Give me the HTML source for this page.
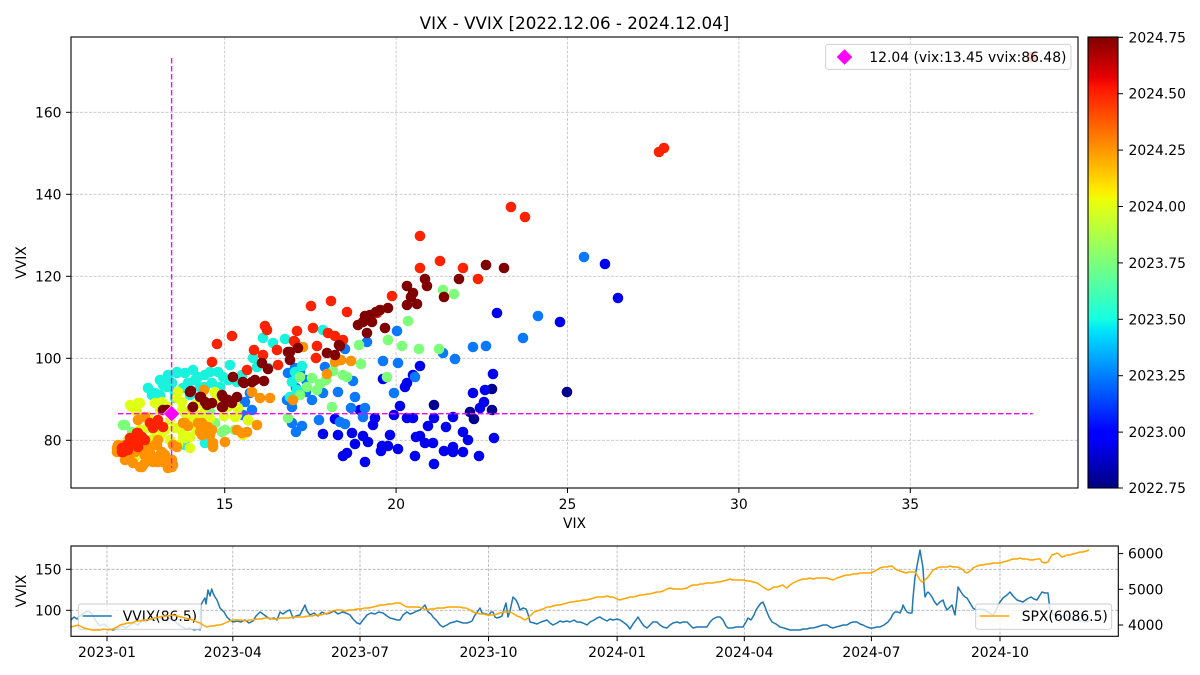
<!DOCTYPE html>
<html><head><meta charset="utf-8"><style>
html,body{margin:0;padding:0;background:#fff;}
svg{display:block;font-family:"DejaVu Sans","Liberation Sans",sans-serif;}
.t{font-size:13.9px;fill:#000;}
</style></head><body>
<svg width="1200" height="675" viewBox="0 0 1200 675" xmlns="http://www.w3.org/2000/svg">
<defs>
<linearGradient id="jet" x1="0" y1="1" x2="0" y2="0">
<stop offset="0" stop-color="#000080"/><stop offset="0.11" stop-color="#0000ff"/><stop offset="0.125" stop-color="#0000ff"/>
<stop offset="0.34" stop-color="#00dbff"/><stop offset="0.35" stop-color="#00e5f8"/><stop offset="0.375" stop-color="#15ffe2"/>
<stop offset="0.5" stop-color="#7bff7b"/><stop offset="0.64" stop-color="#eeff08"/><stop offset="0.65" stop-color="#f7f500"/>
<stop offset="0.66" stop-color="#ffec00"/><stop offset="0.75" stop-color="#ff9600"/><stop offset="0.89" stop-color="#ff1300"/>
<stop offset="0.91" stop-color="#e80000"/><stop offset="1" stop-color="#800000"/>
</linearGradient>
</defs>
<rect width="1200" height="675" fill="#fff"/>
<text x="574.5" y="29" text-anchor="middle" font-size="16.7">VIX - VVIX [2022.12.06 - 2024.12.04]</text>

<!-- main grid -->
<g stroke="#c4c4c4" stroke-width="0.8" stroke-dasharray="3,1.5">
<line x1="224.7" y1="37" x2="224.7" y2="488"/><line x1="396.1" y1="37" x2="396.1" y2="488"/><line x1="567.5" y1="37" x2="567.5" y2="488"/><line x1="738.9" y1="37" x2="738.9" y2="488"/><line x1="910.3" y1="37" x2="910.3" y2="488"/>
<line x1="71" y1="112.3" x2="1078" y2="112.3"/><line x1="71" y1="194.3" x2="1078" y2="194.3"/><line x1="71" y1="276.3" x2="1078" y2="276.3"/><line x1="71" y1="358.3" x2="1078" y2="358.3"/><line x1="71" y1="440.3" x2="1078" y2="440.3"/>
</g>

<!-- scatter -->
<g fill="#000090">
<circle cx="434" cy="405" r="5.3"/><circle cx="470" cy="412" r="5.3"/><circle cx="474" cy="419" r="5.3"/><circle cx="492" cy="389" r="5.3"/><circle cx="492" cy="410" r="5.3"/><circle cx="567" cy="392" r="5.3"/>
</g>
<g fill="#0000f0">
<circle cx="420" cy="366" r="5.3"/><circle cx="383" cy="379" r="5.3"/><circle cx="407" cy="383" r="5.3"/><circle cx="413" cy="375" r="5.3"/><circle cx="497" cy="313" r="5.3"/><circle cx="493" cy="374" r="5.3"/><circle cx="485" cy="390" r="5.3"/><circle cx="473" cy="393" r="5.3"/><circle cx="484" cy="402" r="5.3"/><circle cx="480" cy="408" r="5.3"/><circle cx="400" cy="406" r="5.3"/><circle cx="394" cy="415" r="5.3"/><circle cx="375" cy="418" r="5.3"/><circle cx="373" cy="425" r="5.3"/><circle cx="407" cy="418" r="5.3"/><circle cx="413" cy="418" r="5.3"/><circle cx="434" cy="418" r="5.3"/><circle cx="428" cy="426" r="5.3"/><circle cx="446" cy="427" r="5.3"/><circle cx="453" cy="417" r="5.3"/><circle cx="463" cy="432" r="5.3"/><circle cx="468" cy="440" r="5.3"/><circle cx="494" cy="438" r="5.3"/><circle cx="335" cy="419" r="5.3"/><circle cx="323" cy="434" r="5.3"/><circle cx="338" cy="435" r="5.3"/><circle cx="352" cy="433" r="5.3"/><circle cx="363" cy="436" r="5.3"/><circle cx="368" cy="442" r="5.3"/><circle cx="355" cy="444" r="5.3"/><circle cx="390" cy="435" r="5.3"/><circle cx="416" cy="437" r="5.3"/><circle cx="420" cy="436" r="5.3"/><circle cx="425" cy="443" r="5.3"/><circle cx="433" cy="443" r="5.3"/><circle cx="382" cy="446" r="5.3"/><circle cx="388" cy="446" r="5.3"/><circle cx="398" cy="449" r="5.3"/><circle cx="381" cy="451" r="5.3"/><circle cx="347" cy="453" r="5.3"/><circle cx="343" cy="456" r="5.3"/><circle cx="365" cy="462" r="5.3"/><circle cx="415" cy="456" r="5.3"/><circle cx="434" cy="464" r="5.3"/><circle cx="444" cy="451" r="5.3"/><circle cx="453" cy="447" r="5.3"/><circle cx="453" cy="452" r="5.3"/><circle cx="463" cy="452" r="5.3"/><circle cx="479" cy="456" r="5.3"/><circle cx="605" cy="264" r="5.3"/><circle cx="618" cy="298" r="5.3"/><circle cx="560" cy="322" r="5.3"/><circle cx="405" cy="387" r="5.3"/><circle cx="360" cy="410" r="5.3"/>
</g>
<g fill="#0a78ff">
<circle cx="584" cy="257" r="5.3"/><circle cx="538" cy="316" r="5.3"/><circle cx="523" cy="338" r="5.3"/><circle cx="486" cy="346" r="5.3"/><circle cx="473" cy="347" r="5.3"/><circle cx="443" cy="353" r="5.3"/><circle cx="455" cy="359" r="5.3"/><circle cx="398" cy="363" r="5.3"/><circle cx="397" cy="331" r="5.3"/><circle cx="325" cy="367" r="5.3"/><circle cx="353" cy="381" r="5.3"/><circle cx="338" cy="392" r="5.3"/><circle cx="323" cy="393" r="5.3"/><circle cx="355" cy="397" r="5.3"/><circle cx="394" cy="393" r="5.3"/><circle cx="415" cy="377" r="5.3"/><circle cx="351" cy="408" r="5.3"/><circle cx="365" cy="408" r="5.3"/><circle cx="363" cy="417" r="5.3"/><circle cx="319" cy="420" r="5.3"/><circle cx="340" cy="422" r="5.3"/><circle cx="345" cy="424" r="5.3"/><circle cx="345" cy="349" r="5.3"/><circle cx="367" cy="342" r="5.3"/><circle cx="252" cy="410" r="5.3"/><circle cx="243" cy="415" r="5.3"/><circle cx="292" cy="407" r="5.3"/><circle cx="287" cy="400" r="5.3"/><circle cx="288" cy="373" r="5.3"/><circle cx="295" cy="368" r="5.3"/><circle cx="292" cy="423" r="5.3"/><circle cx="300" cy="372" r="5.3"/><circle cx="306" cy="380" r="5.3"/><circle cx="296" cy="388" r="5.3"/><circle cx="312" cy="400" r="5.3"/><circle cx="302" cy="426" r="5.3"/><circle cx="296" cy="432" r="5.3"/><circle cx="306" cy="392" r="5.3"/><circle cx="248" cy="420" r="5.3"/><circle cx="383" cy="361" r="5.3"/><circle cx="250" cy="393" r="5.3"/><circle cx="245" cy="402" r="5.3"/>
</g>
<g fill="#19f2dc">
<circle cx="323" cy="330" r="5.3"/><circle cx="285" cy="339" r="5.3"/><circle cx="273" cy="343" r="5.3"/><circle cx="253" cy="358" r="5.3"/><circle cx="257" cy="367" r="5.3"/><circle cx="268" cy="368" r="5.3"/><circle cx="218" cy="372" r="5.3"/><circle cx="205" cy="375" r="5.3"/><circle cx="195" cy="380" r="5.3"/><circle cx="185" cy="373" r="5.3"/><circle cx="177" cy="373" r="5.3"/><circle cx="168" cy="378" r="5.3"/><circle cx="172" cy="383" r="5.3"/><circle cx="167" cy="387" r="5.3"/><circle cx="160" cy="395" r="5.3"/><circle cx="152" cy="395" r="5.3"/><circle cx="188" cy="383" r="5.3"/><circle cx="200" cy="387" r="5.3"/><circle cx="183" cy="388" r="5.3"/><circle cx="190" cy="395" r="5.3"/><circle cx="175" cy="393" r="5.3"/><circle cx="175" cy="398" r="5.3"/><circle cx="242" cy="375" r="5.3"/><circle cx="237" cy="382" r="5.3"/><circle cx="223" cy="377" r="5.3"/><circle cx="220" cy="387" r="5.3"/><circle cx="205" cy="443" r="5.3"/><circle cx="185" cy="445" r="5.3"/><circle cx="295" cy="372" r="5.3"/><circle cx="302" cy="366" r="5.3"/><circle cx="292" cy="382" r="5.3"/><circle cx="297" cy="390" r="5.3"/><circle cx="290" cy="397" r="5.3"/><circle cx="263" cy="338" r="5.3"/><circle cx="230" cy="365" r="5.3"/>
<circle cx="155" cy="393" r="5.3"/><circle cx="163" cy="385" r="5.3"/><circle cx="168" cy="375" r="5.3"/><circle cx="177" cy="372" r="5.3"/><circle cx="198" cy="377" r="5.3"/><circle cx="228" cy="380" r="5.3"/><circle cx="205" cy="387" r="5.3"/><circle cx="188" cy="388" r="5.3"/><circle cx="212" cy="383" r="5.3"/><circle cx="160" cy="380" r="5.3"/><circle cx="193" cy="370" r="5.3"/><circle cx="210" cy="372" r="5.3"/><circle cx="148" cy="388" r="5.3"/>
</g>
<g fill="#7dff7a">
<circle cx="443" cy="290" r="5.3"/><circle cx="454" cy="294" r="5.3"/><circle cx="408" cy="321" r="5.3"/><circle cx="359" cy="345" r="5.3"/><circle cx="361" cy="364" r="5.3"/><circle cx="388" cy="340" r="5.3"/><circle cx="402" cy="346" r="5.3"/><circle cx="419" cy="349" r="5.3"/><circle cx="439" cy="349" r="5.3"/><circle cx="387" cy="377" r="5.3"/><circle cx="332" cy="407" r="5.3"/><circle cx="343" cy="375" r="5.3"/><circle cx="347" cy="377" r="5.3"/><circle cx="333" cy="371" r="5.3"/><circle cx="300" cy="377" r="5.3"/><circle cx="312" cy="378" r="5.3"/><circle cx="307" cy="387" r="5.3"/><circle cx="317" cy="390" r="5.3"/><circle cx="300" cy="395" r="5.3"/><circle cx="125" cy="425" r="5.3"/><circle cx="195" cy="420" r="5.3"/><circle cx="225" cy="430" r="5.3"/><circle cx="198" cy="427" r="5.3"/><circle cx="288" cy="418" r="5.3"/><circle cx="326" cy="380" r="5.3"/><circle cx="320" cy="384" r="5.3"/>
<circle cx="123" cy="425" r="5.3"/><circle cx="132" cy="432" r="5.3"/><circle cx="215" cy="423" r="5.3"/><circle cx="222" cy="432" r="5.3"/><circle cx="235" cy="430" r="5.3"/><circle cx="200" cy="418" r="5.3"/><circle cx="210" cy="412" r="5.3"/>
</g>
<g fill="#e0ff17">
<circle cx="132" cy="407" r="5.3"/><circle cx="140" cy="403" r="5.3"/><circle cx="155" cy="403" r="5.3"/><circle cx="162" cy="402" r="5.3"/><circle cx="177" cy="398" r="5.3"/><circle cx="182" cy="410" r="5.3"/><circle cx="190" cy="417" r="5.3"/><circle cx="192" cy="422" r="5.3"/><circle cx="205" cy="407" r="5.3"/><circle cx="215" cy="392" r="5.3"/><circle cx="218" cy="402" r="5.3"/><circle cx="225" cy="407" r="5.3"/><circle cx="238" cy="408" r="5.3"/><circle cx="235" cy="417" r="5.3"/><circle cx="175" cy="428" r="5.3"/><circle cx="183" cy="433" r="5.3"/><circle cx="185" cy="438" r="5.3"/><circle cx="158" cy="422" r="5.3"/><circle cx="148" cy="417" r="5.3"/><circle cx="147" cy="428" r="5.3"/><circle cx="135" cy="457" r="5.3"/><circle cx="160" cy="410" r="5.3"/><circle cx="170" cy="420" r="5.3"/><circle cx="165" cy="430" r="5.3"/><circle cx="200" cy="415" r="5.3"/><circle cx="210" cy="418" r="5.3"/><circle cx="128" cy="440" r="5.3"/><circle cx="140" cy="430" r="5.3"/><circle cx="150" cy="440" r="5.3"/><circle cx="178" cy="445" r="5.3"/><circle cx="190" cy="448" r="5.3"/><circle cx="196" cy="430" r="5.3"/><circle cx="170" cy="440" r="5.3"/><circle cx="224" cy="416" r="5.3"/><circle cx="137" cy="412" r="5.3"/>
<circle cx="130" cy="405" r="5.3"/><circle cx="138" cy="403" r="5.3"/><circle cx="178" cy="392" r="5.3"/><circle cx="182" cy="402" r="5.3"/><circle cx="185" cy="413" r="5.3"/><circle cx="183" cy="437" r="5.3"/><circle cx="190" cy="437" r="5.3"/><circle cx="202" cy="398" r="5.3"/><circle cx="215" cy="393" r="5.3"/><circle cx="228" cy="407" r="5.3"/><circle cx="237" cy="415" r="5.3"/><circle cx="248" cy="420" r="5.3"/><circle cx="243" cy="435" r="5.3"/><circle cx="208" cy="430" r="5.3"/><circle cx="155" cy="432" r="5.3"/><circle cx="135" cy="453" r="5.3"/><circle cx="145" cy="450" r="5.3"/><circle cx="168" cy="407" r="5.3"/><circle cx="195" cy="405" r="5.3"/><circle cx="160" cy="436" r="5.3"/>
</g>
<g fill="#ff9200">
<circle cx="125" cy="445" r="5.3"/><circle cx="117" cy="448" r="5.3"/><circle cx="135" cy="452" r="5.3"/><circle cx="148" cy="448" r="5.3"/><circle cx="155" cy="445" r="5.3"/><circle cx="162" cy="452" r="5.3"/><circle cx="158" cy="462" r="5.3"/><circle cx="165" cy="460" r="5.3"/><circle cx="140" cy="467" r="5.3"/><circle cx="145" cy="463" r="5.3"/><circle cx="172" cy="467" r="5.3"/><circle cx="165" cy="455" r="5.3"/><circle cx="183" cy="423" r="5.3"/><circle cx="202" cy="423" r="5.3"/><circle cx="208" cy="427" r="5.3"/><circle cx="202" cy="435" r="5.3"/><circle cx="213" cy="446" r="5.3"/><circle cx="225" cy="442" r="5.3"/><circle cx="237" cy="430" r="5.3"/><circle cx="247" cy="432" r="5.3"/><circle cx="257" cy="425" r="5.3"/><circle cx="252" cy="392" r="5.3"/><circle cx="260" cy="398" r="5.3"/><circle cx="270" cy="398" r="5.3"/><circle cx="204" cy="390" r="5.3"/><circle cx="293" cy="400" r="5.3"/><circle cx="303" cy="347" r="5.3"/><circle cx="335" cy="362" r="5.3"/><circle cx="341" cy="360" r="5.3"/><circle cx="351" cy="361" r="5.3"/><circle cx="327" cy="374" r="5.3"/><circle cx="153" cy="462" r="5.3"/><circle cx="167" cy="462" r="5.3"/><circle cx="173" cy="465" r="5.3"/><circle cx="173" cy="445" r="5.3"/><circle cx="157" cy="445" r="5.3"/><circle cx="150" cy="453" r="5.3"/><circle cx="138" cy="450" r="5.3"/><circle cx="210" cy="435" r="5.3"/><circle cx="213" cy="443" r="5.3"/><circle cx="200" cy="432" r="5.3"/><circle cx="130" cy="455" r="5.3"/><circle cx="120" cy="452" r="5.3"/><circle cx="145" cy="456" r="5.3"/><circle cx="188" cy="426" r="5.3"/><circle cx="242" cy="433" r="5.3"/>
<circle cx="118" cy="445" r="5.3"/><circle cx="117" cy="452" r="5.3"/><circle cx="125" cy="460" r="5.3"/><circle cx="133" cy="463" r="5.3"/><circle cx="142" cy="467" r="5.3"/><circle cx="150" cy="458" r="5.3"/><circle cx="163" cy="462" r="5.3"/><circle cx="172" cy="460" r="5.3"/><circle cx="177" cy="447" r="5.3"/><circle cx="158" cy="440" r="5.3"/><circle cx="145" cy="417" r="5.3"/><circle cx="138" cy="420" r="5.3"/><circle cx="185" cy="423" r="5.3"/><circle cx="198" cy="423" r="5.3"/><circle cx="205" cy="427" r="5.3"/><circle cx="212" cy="430" r="5.3"/><circle cx="202" cy="435" r="5.3"/><circle cx="213" cy="447" r="5.3"/><circle cx="192" cy="408" r="5.3"/><circle cx="142" cy="448" r="5.3"/><circle cx="128" cy="458" r="5.3"/><circle cx="160" cy="455" r="5.3"/><circle cx="168" cy="468" r="5.3"/>
</g>
<g fill="#ff2200">
<circle cx="1032" cy="57" r="5.3"/><circle cx="659" cy="152" r="5.3"/><circle cx="664" cy="148" r="5.3"/><circle cx="511" cy="207" r="5.3"/><circle cx="525" cy="217" r="5.3"/><circle cx="420" cy="236" r="5.3"/><circle cx="440" cy="261" r="5.3"/><circle cx="463" cy="268" r="5.3"/><circle cx="478" cy="279" r="5.3"/><circle cx="420" cy="268" r="5.3"/><circle cx="392" cy="296" r="5.3"/><circle cx="311" cy="306" r="5.3"/><circle cx="331" cy="301" r="5.3"/><circle cx="347" cy="312" r="5.3"/><circle cx="377" cy="313" r="5.3"/><circle cx="297" cy="331" r="5.3"/><circle cx="313" cy="328" r="5.3"/><circle cx="328" cy="333" r="5.3"/><circle cx="335" cy="336" r="5.3"/><circle cx="343" cy="340" r="5.3"/><circle cx="295" cy="342" r="5.3"/><circle cx="317" cy="346" r="5.3"/><circle cx="316" cy="358" r="5.3"/><circle cx="265" cy="326" r="5.3"/><circle cx="267" cy="330" r="5.3"/><circle cx="232" cy="336" r="5.3"/><circle cx="217" cy="344" r="5.3"/><circle cx="254" cy="350" r="5.3"/><circle cx="263" cy="355" r="5.3"/><circle cx="277" cy="350" r="5.3"/><circle cx="212" cy="362" r="5.3"/><circle cx="247" cy="370" r="5.3"/><circle cx="278" cy="365" r="5.3"/><circle cx="150" cy="423" r="5.3"/><circle cx="158" cy="420" r="5.3"/><circle cx="163" cy="427" r="5.3"/><circle cx="138" cy="433" r="5.3"/><circle cx="135" cy="437" r="5.3"/><circle cx="145" cy="440" r="5.3"/><circle cx="133" cy="443" r="5.3"/><circle cx="127" cy="448" r="5.3"/><circle cx="123" cy="452" r="5.3"/><circle cx="138" cy="447" r="5.3"/><circle cx="153" cy="428" r="5.3"/><circle cx="294" cy="341" r="5.3"/>
<circle cx="122" cy="448" r="5.3"/><circle cx="127" cy="445" r="5.3"/><circle cx="135" cy="440" r="5.3"/><circle cx="137" cy="433" r="5.3"/><circle cx="142" cy="437" r="5.3"/><circle cx="152" cy="425" r="5.3"/><circle cx="128" cy="450" r="5.3"/><circle cx="122" cy="452" r="5.3"/><circle cx="130" cy="438" r="5.3"/>
</g>
<g fill="#800000">
<circle cx="407" cy="286" r="5.3"/><circle cx="413" cy="293" r="5.3"/><circle cx="411" cy="297" r="5.3"/><circle cx="407" cy="305" r="5.3"/><circle cx="417" cy="304" r="5.3"/><circle cx="427" cy="286" r="5.3"/><circle cx="444" cy="297" r="5.3"/><circle cx="486" cy="265" r="5.3"/><circle cx="504" cy="268" r="5.3"/><circle cx="459" cy="279" r="5.3"/><circle cx="425" cy="279" r="5.3"/><circle cx="365" cy="316" r="5.3"/><circle cx="370" cy="315" r="5.3"/><circle cx="363" cy="322" r="5.3"/><circle cx="372" cy="322" r="5.3"/><circle cx="358" cy="325" r="5.3"/><circle cx="367" cy="333" r="5.3"/><circle cx="385" cy="328" r="5.3"/><circle cx="380" cy="310" r="5.3"/><circle cx="388" cy="308" r="5.3"/><circle cx="298" cy="348" r="5.3"/><circle cx="290" cy="352" r="5.3"/><circle cx="339" cy="345" r="5.3"/><circle cx="327" cy="353" r="5.3"/><circle cx="335" cy="355" r="5.3"/><circle cx="340" cy="346" r="5.3"/><circle cx="191" cy="391" r="5.3"/><circle cx="201" cy="397" r="5.3"/><circle cx="193" cy="407" r="5.3"/><circle cx="212" cy="403" r="5.3"/><circle cx="205" cy="402" r="5.3"/><circle cx="223" cy="397" r="5.3"/><circle cx="237" cy="397" r="5.3"/><circle cx="232" cy="403" r="5.3"/><circle cx="222" cy="407" r="5.3"/><circle cx="167" cy="410" r="5.3"/><circle cx="233" cy="377" r="5.3"/><circle cx="244" cy="383" r="5.3"/><circle cx="255" cy="380" r="5.3"/><circle cx="264" cy="381" r="5.3"/><circle cx="262" cy="363" r="5.3"/><circle cx="268" cy="369" r="5.3"/><circle cx="288" cy="352" r="5.3"/><circle cx="290" cy="360" r="5.3"/><circle cx="376" cy="312" r="5.3"/>
<circle cx="163" cy="410" r="5.3"/><circle cx="190" cy="392" r="5.3"/><circle cx="200" cy="397" r="5.3"/><circle cx="207" cy="405" r="5.3"/><circle cx="222" cy="395" r="5.3"/><circle cx="223" cy="407" r="5.3"/><circle cx="243" cy="382" r="5.3"/><circle cx="252" cy="382" r="5.3"/><circle cx="228" cy="400" r="5.3"/>
</g>

<!-- magenta crosshair -->
<g stroke="#ff00ff" stroke-width="1.4" stroke-dasharray="5.5,2.5" fill="none">
<line x1="171.6" y1="58" x2="171.6" y2="468"/>
<line x1="118" y1="413.7" x2="1032.7" y2="413.7"/>
</g>
<polygon points="171.6,405.5 179.8,413.7 171.6,421.9 163.4,413.7" fill="#ff00ff" stroke="#fff" stroke-width="0.6"/>

<!-- main legend -->
<rect x="825.7" y="44.3" width="245.3" height="25" rx="2.5" fill="#fff" fill-opacity="0.8" stroke="#cccccc" stroke-width="0.9"/>
<polygon points="844.5,49.2 852.3,57 844.5,64.8 836.7,57" fill="#ff00ff"/>
<text x="869.3" y="62" class="t">12.04 (vix:13.45 vvix:86.48)</text>

<!-- main axes frame & ticks -->
<rect x="71" y="37" width="1007" height="451" fill="none" stroke="#000" stroke-width="1.1"/>
<g stroke="#000" stroke-width="1">
<line x1="224.7" y1="488" x2="224.7" y2="493"/><line x1="396.1" y1="488" x2="396.1" y2="493"/><line x1="567.5" y1="488" x2="567.5" y2="493"/><line x1="738.9" y1="488" x2="738.9" y2="493"/><line x1="910.3" y1="488" x2="910.3" y2="493"/>
<line x1="66" y1="112.3" x2="71" y2="112.3"/><line x1="66" y1="194.3" x2="71" y2="194.3"/><line x1="66" y1="276.3" x2="71" y2="276.3"/><line x1="66" y1="358.3" x2="71" y2="358.3"/><line x1="66" y1="440.3" x2="71" y2="440.3"/>
</g>
<g class="t" text-anchor="middle">
<text x="224.7" y="509">15</text><text x="396.1" y="509">20</text><text x="567.5" y="509">25</text><text x="738.9" y="509">30</text><text x="910.3" y="509">35</text>
</g>
<g class="t" text-anchor="end">
<text x="61.5" y="117.3">160</text><text x="61.5" y="199.3">140</text><text x="61.5" y="281.3">120</text><text x="61.5" y="363.3">100</text><text x="61.5" y="445.3">80</text>
</g>
<text x="574.5" y="528" class="t" text-anchor="middle">VIX</text>
<text transform="translate(26,262.5) rotate(-90)" class="t" text-anchor="middle">VVIX</text>

<!-- colorbar -->
<rect x="1088" y="37" width="30" height="451" fill="url(#jet)"/>
<rect x="1088" y="37" width="30" height="451" fill="none" stroke="#000" stroke-width="1.1"/>
<g stroke="#000" stroke-width="1">
<line x1="1118" y1="37.3" x2="1123" y2="37.3"/><line x1="1118" y1="93.7" x2="1123" y2="93.7"/><line x1="1118" y1="150.1" x2="1123" y2="150.1"/><line x1="1118" y1="206.5" x2="1123" y2="206.5"/><line x1="1118" y1="262.9" x2="1123" y2="262.9"/><line x1="1118" y1="319.3" x2="1123" y2="319.3"/><line x1="1118" y1="375.7" x2="1123" y2="375.7"/><line x1="1118" y1="432.1" x2="1123" y2="432.1"/><line x1="1118" y1="488" x2="1123" y2="488"/>
</g>
<g class="t">
<text x="1128.5" y="42.3">2024.75</text><text x="1128.5" y="98.7">2024.50</text><text x="1128.5" y="155.1">2024.25</text><text x="1128.5" y="211.5">2024.00</text><text x="1128.5" y="267.9">2023.75</text><text x="1128.5" y="324.3">2023.50</text><text x="1128.5" y="380.7">2023.25</text><text x="1128.5" y="437.1">2023.00</text><text x="1128.5" y="493">2022.75</text>
</g>

<!-- bottom panel -->
<g stroke="#b0b0b0" stroke-width="0.8" stroke-dasharray="3,1.5">
<line x1="107" y1="546" x2="107" y2="636.3"/><line x1="232.8" y1="546" x2="232.8" y2="636.3"/><line x1="360" y1="546" x2="360" y2="636.3"/><line x1="488.5" y1="546" x2="488.5" y2="636.3"/><line x1="617.1" y1="546" x2="617.1" y2="636.3"/><line x1="744.3" y1="546" x2="744.3" y2="636.3"/><line x1="871.4" y1="546" x2="871.4" y2="636.3"/><line x1="1000" y1="546" x2="1000" y2="636.3"/>
<line x1="71" y1="569.3" x2="1118.3" y2="569.3"/><line x1="71" y1="610.3" x2="1118.3" y2="610.3"/>
</g>
<polyline fill="none" stroke="#1f77b4" stroke-width="1.5" stroke-linejoin="round" points="71,620 74,617 77,619 80,616 84,613 88,611 92,614 96,621 100,626 104,624 108,628 113,630 118,628 122,626 126,628 130,625 134,623 138,625 142,621 146,622 150,619 154,621 158,617 162,619 166,616 170,619 174,621 178,624 182,627 186,629 190,628 194,630 198,629 200,630 201,605 203,601 205,598 206,604 208,590 210,596 211.7,589 213,593 215,597 217,600 220,608 224,612 227,617 230,620 233,622 237,621 241,622 245,620 249,623 253,621 256,616 260,612 263,614 267,617 270,619 274,618 277,620 280,612 283,614 287,611 290,610 293,618 296,616 300,615 303,609 305,605 307,611 310,615 314,613 318,616 322,612 326,614 330,613 334,611 338,614 342,612 346,613 350,615 353,619 357,623 360,624 363,620 367,615 371,613 375,614 379,612 383,613 387,616 390,618 394,619 397,620 400,620 403,615 407,612 410,614 413,613 417,611 420,610 423,607 425,605 428,612 431,614 433,617 437,621 440,625 443,627 447,625 450,623 454,622 457,621 460,622 463,623 467,623 470,622 472,621 475,615 478,611 480,608 482,613 486,614 489,615 491,612 493,612 495,617 497,618 500,617 502,616 504,609 506,603 508,617 510,611 513,597 516,600 518,604 520,610 523,608 526,609 528,614 530,622 534,623 537,624 541,622 544,621 547,620 550,623 553,625 557,623 560,621 563,622 567,621 570,622 574,620 577,622 580,622 583,623 587,625 590,622 594,620 597,618 600,617 603,619 607,621 610,619 613,620 617,619 620,620 623,622 627,625 630,629 633,624 636,620 638,617 641,622 644,626 647,628 650,625 653,622 657,622 660,625 663,627 667,628 670,625 673,623 677,622 680,623 683,622 687,622 690,625 693,628 697,627 700,627 703,627 707,627 710,622 713,619 717,617 720,617 723,620 726,626 728,628 732,628 736,627 740,627 743,627 746,622 748,618 751,620 754,615 756,610 758,607 761,603 763,602 765,607 767,612 769,617 772,622 776,624 780,627 784,628 787,629 790,630 795,630 800,630 803,629 807,629 810,628 813,628 817,627 820,626 823,625 827,625 830,627 833,628 836,627 840,626 843,625 847,625 850,623 853,622 857,622 860,624 863,625 867,627 870,628 873,628 877,627 880,627 884,625 888,622 891,618 893,614 895,612 898,612 900,613 902,609 903,605 905,609 907,612 909,613 912,613 913,598 915,577 917,566 920,550 921,556 923,568 924,585 925,597 927,593 928,592 930,594 932,597 934,601 937,605 940,602 943,600 945,606 947,610 950,607 952,605 954,612 955,615 957,598 958,587 961,592 963,595 965,597 967,598 970,603 973,608 976,610 980,609 985,610 989,613 993,615 996,611 998,605 1000,602 1003,598 1007,595 1010,592 1013,596 1017,600 1020,601 1023,602 1027,599 1031,597 1034,599 1037,600 1040,595 1042,592 1045,593 1048,593 1050,610 1053,614 1057,616 1060,614 1063,617 1067,615 1070,618 1073,620 1077,619 1080,621 1083,621 1086,622 1089,621"/>
<!-- left legend -->
<rect x="78.3" y="604" width="123.4" height="25.3" rx="2.5" fill="#fff" fill-opacity="0.8" stroke="#cccccc" stroke-width="0.9"/>
<line x1="82.7" y1="616" x2="111.7" y2="616" stroke="#1f77b4" stroke-width="1.5"/>
<text x="122.7" y="621" class="t">VVIX(86.5)</text>
<polyline fill="none" stroke="#ffa500" stroke-width="1.5" stroke-linejoin="round" points="71,627 75,626 78,625 80,626 84,628 88,629 92,630 96,630 100,630 104,629 108,630 113,629 117,627 120,625 124,624 128,623 132,623 136,621 140,621 144,620 147,620 151,619 155,618 160,617 164,616 168,616 173,615 177,616 181,617 185,618 189,619 193,620 197,622 200,623 203,625 207,627 210,626 214,626 217,625 220,625 223,624 227,622 230,621 233,620 237,620 241,620 245,621 249,620 253,620 257,619 261,619 265,618 269,618 273,619 277,619 281,618 285,618 289,618 293,617 297,617 300,617 304,617 308,616 312,616 316,615 320,615 324,614 328,613 332,611 337,610 341,610 345,611 349,610 353,610 357,609 361,609 365,608 369,608 373,607 377,606 380,605 384,605 388,604 392,604 396,603 400,603 403,605 407,607 411,607 414,607 418,607 422,608 426,610 430,609 434,609 437,608 440,608 444,608 448,607 452,607 456,607 460,607 463,608 466,608 470,610 473,612 477,613 480,614 484,614 487,615 490,615 493,615 497,614 500,613 504,612 507,612 510,612 514,614 517,616 520,617 523,619 525,620 528,618 531,615 534,612 537,611 540,610 543,609 547,607 550,607 553,606 557,605 560,605 563,604 567,603 570,602 573,602 577,601 580,601 583,600 587,600 590,599 594,598 597,597 600,597 604,597 607,596 610,597 613,597 617,599 620,600 623,599 627,598 630,597 633,597 637,596 640,595 643,595 647,594 650,594 653,593 657,592 660,592 663,591 667,589 670,588 673,589 677,589 680,589 683,589 687,588 690,586 693,585 697,585 700,584 703,584 707,583 710,583 713,583 717,582 720,582 723,581 727,580 730,579 733,580 737,580 740,580 743,580 747,581 750,581 753,582 757,583 760,585 763,587 766,589 768,590 771,589 774,587 777,587 780,586 783,585 785,587 787,588 790,585 793,583 797,581 800,580 803,579 807,579 810,578 813,579 817,578 820,578 823,578 827,578 830,579 833,580 837,578 840,577 843,576 847,575 850,575 853,574 857,574 860,573 863,573 867,573 870,573 873,572 877,570 880,568 883,567 887,567 890,566 892,566 894,568 897,570 900,571 903,572 906,573 909,572 912,572 915,572 917,575 920,580 922,582 924,581 926,579 928,577 931,573 933,570 937,568 940,567 943,567 947,567 950,566 953,567 957,567 960,568 963,570 965,572 967,573 970,571 973,568 977,566 980,565 983,565 987,564 990,564 993,563 997,563 1000,563 1003,562 1007,561 1010,560 1013,559 1017,559 1020,558 1023,559 1027,559 1030,560 1033,560 1037,559 1040,559 1042,562 1045,563 1048,562 1050,558 1052,555 1055,554 1057,553 1060,555 1062,557 1065,556 1067,555 1070,555 1073,554 1077,553 1080,552 1083,552 1086,551 1089,550"/>
<!-- right legend -->
<rect x="975.7" y="604" width="136" height="25.3" rx="2.5" fill="#fff" fill-opacity="0.8" stroke="#cccccc" stroke-width="0.9"/>
<line x1="980" y1="616" x2="1009.3" y2="616" stroke="#ffa500" stroke-width="1.5"/>
<text x="1021.7" y="621" class="t">SPX(6086.5)</text>

<rect x="71" y="546" width="1047.3" height="90.3" fill="none" stroke="#000" stroke-width="1.1"/>
<g stroke="#000" stroke-width="1">
<line x1="107" y1="636.3" x2="107" y2="641.2"/><line x1="232.8" y1="636.3" x2="232.8" y2="641.2"/><line x1="360" y1="636.3" x2="360" y2="641.2"/><line x1="488.5" y1="636.3" x2="488.5" y2="641.2"/><line x1="617.1" y1="636.3" x2="617.1" y2="641.2"/><line x1="744.3" y1="636.3" x2="744.3" y2="641.2"/><line x1="871.4" y1="636.3" x2="871.4" y2="641.2"/><line x1="1000" y1="636.3" x2="1000" y2="641.2"/>
<line x1="66" y1="569.3" x2="71" y2="569.3"/><line x1="66" y1="610.3" x2="71" y2="610.3"/>
<line x1="1118.3" y1="553.6" x2="1123.2" y2="553.6"/><line x1="1118.3" y1="589.3" x2="1123.2" y2="589.3"/><line x1="1118.3" y1="625" x2="1123.2" y2="625"/>
</g>
<g class="t" text-anchor="middle">
<text x="107" y="657">2023-01</text><text x="232.8" y="657">2023-04</text><text x="360" y="657">2023-07</text><text x="488.5" y="657">2023-10</text><text x="617.1" y="657">2024-01</text><text x="744.3" y="657">2024-04</text><text x="871.4" y="657">2024-07</text><text x="1000" y="657">2024-10</text>
</g>
<g class="t" text-anchor="end">
<text x="61.5" y="574.3">150</text><text x="61.5" y="615.3">100</text>
</g>
<g class="t">
<text x="1128" y="558.6">6000</text><text x="1128" y="594.3">5000</text><text x="1128" y="630">4000</text>
</g>
<text transform="translate(26,591) rotate(-90)" class="t" text-anchor="middle">VVIX</text>
</svg>
</body></html>
